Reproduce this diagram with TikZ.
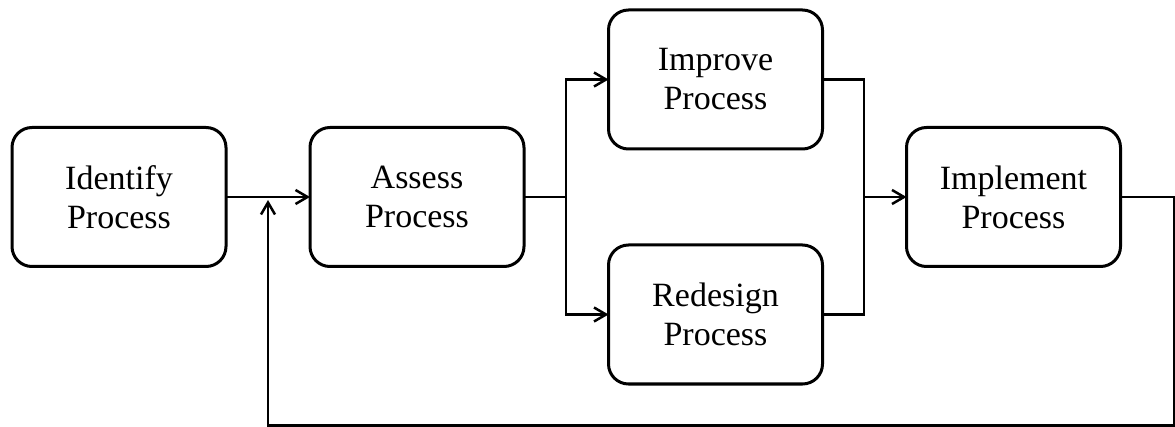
\documentclass[tikz,border=0pt]{standalone}
\usepackage{fontspec}
\setmainfont{Liberation Serif}
\usetikzlibrary{arrows.meta}
\begin{document}
\begin{tikzpicture}[x=1pt,y=-1pt,
  procbox/.style={draw=black, line width=3pt, rounded corners=20pt,
    minimum width=214pt, minimum height=139pt, align=center,
    inner sep=0pt, outer sep=0pt,
    font=\fontsize{34}{39}\selectfont},
  flow/.style={draw=black, line width=2.5pt},
  arr/.style={flow, -{Straight Barb[length=12pt,width=14pt,line width=2.5pt]}}
]
\useasboundingbox (0,0) rectangle (1175,427);

% process steps
\node[procbox] (identify)  at (119,197)    {Identify\\Process};
\node[procbox] (assess)    at (417,197)    {Assess\\Process};
\node[procbox] (improve)   at (715.5,79.5) {Improve\\Process};
\node[procbox] (redesign)  at (715.5,314.5){Redesign\\Process};
\node[procbox] (implement) at (1013.5,197) {Implement\\Process};

% junction points
\coordinate (split)  at (566,197);
\coordinate (merge)  at (864,197);
\coordinate (corner) at (1174,425.5);
\coordinate (fb)     at (268,200);

% main flow
\draw[arr] (identify.east) -- (assess.west);
\draw[flow] (assess.east) -- (split);
\draw[arr] (split) |- (improve.west);
\draw[arr] (split) |- (redesign.west);
\draw[flow] (improve.east) -| (merge);
\draw[flow] (redesign.east) -| (merge);
\draw[arr] (merge) -- (implement.west);

% feedback loop
\draw[arr] (implement.east) -| (corner) -| (fb);
\end{tikzpicture}
\end{document}
